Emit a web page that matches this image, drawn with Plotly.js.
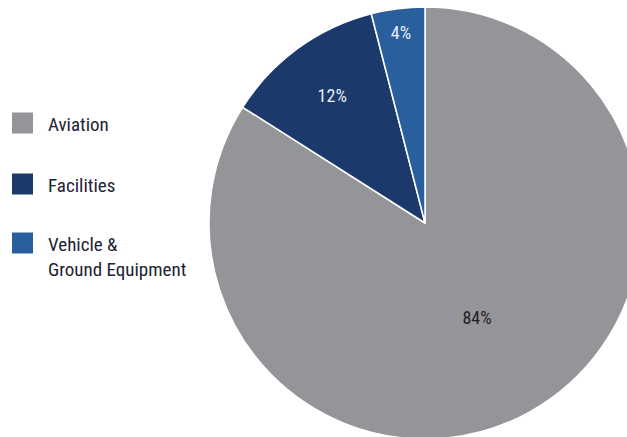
<!DOCTYPE html>
<html>
<head>
<meta charset="utf-8">
<script src="https://cdn.plot.ly/plotly-3.0.1.min.js"></script>
<style>
html,body{margin:0;padding:0;overflow:hidden;background:#fff;width:627px;height:437px;}
#chart{width:660px;height:460px;}
</style>
</head>
<body>
<div id="chart"></div>
<script>
const categories = ["Aviation", "Facilities", "Vehicle &<br>Ground Equipment"];
const shares = [84, 12, 4];
const colors = ["#939598", "#1b3a6b", "#2a5f9e"];
const textColors = ["#231f20", "#e8eef7", "#e8eef7"];

const W = 660, H = 460;
const FONT = "'Liberation Sans Narrow', 'Roboto Condensed', 'DejaVu Sans Condensed', sans-serif";
const cx = 425, cy = 223, R = 216;

const trace = {
  type: "pie",
  labels: categories,
  values: shares,
  sort: false,
  direction: "clockwise",
  rotation: 0,
  marker: {colors: colors, line: {color: "#ffffff", width: 1.5}},
  texttemplate: "%{value}%",
  textposition: "inside",
  insidetextorientation: "horizontal",
  insidetextfont: {family: FONT, size: 18, color: textColors},
  hoverinfo: "label+percent",
  showlegend: false,
  domain: {x: [(cx - R) / W, (cx + R) / W], y: [(H - cy - R) / H, (H - cy + R) / H]}
};

// legend drawn as layout decorations
const legendY = [123, 184, 243];
const shapes = [], annotations = [];
categories.forEach((c, i) => {
  const top = legendY[i] - 10.5;
  shapes.push({type: "rect", xref: "paper", yref: "paper",
    x0: 12 / W, x1: 33 / W, y0: 1 - (top + 21) / H, y1: 1 - top / H,
    fillcolor: colors[i], line: {width: 0}});
  annotations.push({xref: "paper", yref: "paper", x: 46 / W, y: 1 - (legendY[i] - 12) / H,
    xanchor: "left", yanchor: "top", align: "left", showarrow: false,
    text: c, font: {family: FONT, size: 19, color: "#1e2233"}});
});

const layout = {
  width: W, height: H,
  margin: {l: 0, r: 0, t: 0, b: 0},
  paper_bgcolor: "#ffffff",
  showlegend: false,
  shapes: shapes,
  annotations: annotations
};

Plotly.newPlot("chart", [trace], layout, {displayModeBar: false, staticPlot: true});
</script>
</body>
</html>
